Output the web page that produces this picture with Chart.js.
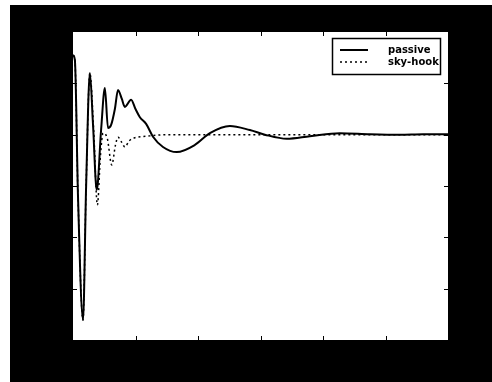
<!DOCTYPE html>
<html>
<head>
<meta charset="utf-8">
<script src="https://cdn.jsdelivr.net/npm/chart.js@4"></script>
<style>
  html, body { margin: 0; padding: 0; background: #fff; }
  #wrap { width: 492px; height: 382px; }
</style>
</head>
<body>
<div id="wrap"><canvas id="chart" width="492" height="382"></canvas></div>
<script>
// values (time on x, response on y)
const passiveX = [0, 0.03, 0.08, 0.16, 0.21, 0.27, 0.32, 0.38, 0.45, 0.51, 0.56, 0.61, 0.67, 0.72, 0.78, 0.83, 0.93, 1.0, 1.07, 1.17, 1.28, 1.44, 1.66, 1.95, 2.19, 2.51, 2.83, 3.07, 3.42, 3.79, 4.27, 4.75, 5.23, 5.6, 6.0];
const passiveY = [1.55, 1.45, -1.2, -3.61, -1.0, 1.2, 0.2, -1.08, 0.1, 0.91, 0.13, 0.19, 0.5, 0.87, 0.7, 0.54, 0.68, 0.5, 0.34, 0.21, -0.04, -0.24, -0.34, -0.2, 0.03, 0.17, 0.09, 0, -0.08, -0.03, 0.03, 0.01, 0, 0.01, 0.01];
const skyhookX = [0, 0.03, 0.08, 0.16, 0.21, 0.27, 0.33, 0.39, 0.44, 0.48, 0.55, 0.62, 0.68, 0.72, 0.78, 0.83, 0.9, 0.99, 1.18, 1.5, 2.0, 3.0, 4.0, 5.0, 6.0];
const skyhookY = [1.55, 1.45, -1.2, -3.61, -1.0, 1.2, 0.1, -1.37, -0.4, 0.03, -0.08, -0.59, -0.2, -0.05, -0.15, -0.24, -0.12, -0.06, -0.03, 0, 0, 0, 0, 0, 0];
const xTicks = [0, 1, 2, 3, 4, 5, 6];
const yTicks = [-4, -3, -2, -1, 0, 1, 2];
const labels = ['passive', 'sky-hook'];

const pts = (xs, ys) => xs.map((x, i) => ({ x: x, y: ys[i] }));

const frame = {
  id: 'frame',
  beforeDraw(chart) {
    const { ctx, chartArea: a } = chart;
    ctx.save();
    ctx.fillStyle = '#fff';
    ctx.fillRect(0, 0, chart.width, chart.height);
    ctx.fillStyle = '#000';
    ctx.fillRect(10, 5, chart.width - 10, chart.height - 5);
    ctx.fillStyle = '#fff';
    ctx.fillRect(a.left, a.top, a.right - a.left, a.bottom - a.top);
    ctx.restore();
  },
  afterDraw(chart) {
    const { ctx, chartArea: a, scales } = chart;
    ctx.save();
    // inward tick marks
    ctx.strokeStyle = '#000';
    ctx.lineWidth = 1;
    ctx.beginPath();
    xTicks.slice(1, -1).forEach(v => {
      const px = Math.round(scales.x.getPixelForValue(v)) + 0.5;
      ctx.moveTo(px, a.bottom); ctx.lineTo(px, a.bottom - 4);
      ctx.moveTo(px, a.top); ctx.lineTo(px, a.top + 4);
    });
    yTicks.slice(1, -1).forEach(v => {
      const py = Math.round(scales.y.getPixelForValue(v)) + 0.5;
      ctx.moveTo(a.left, py); ctx.lineTo(a.left + 4, py);
      ctx.moveTo(a.right, py); ctx.lineTo(a.right - 4, py);
    });
    ctx.stroke();

    // legend box, top right
    const bx = 332, by = 38, bw = 108, bh = 36;
    ctx.fillStyle = '#fff';
    ctx.fillRect(bx, by, bw, bh);
    ctx.lineWidth = 1.5;
    ctx.strokeRect(bx + 0.5, by + 0.5, bw, bh);
    chart.data.datasets.forEach((ds, i) => {
      const y = by + 12 + i * 12;
      ctx.beginPath();
      ctx.strokeStyle = ds.borderColor;
      ctx.lineWidth = ds.borderWidth;
      ctx.setLineDash(ds.borderDash || []);
      ctx.moveTo(bx + 8, y);
      ctx.lineTo(bx + 36, y);
      ctx.stroke();
      ctx.setLineDash([]);
      ctx.fillStyle = '#000';
      ctx.font = 'bold 10px "DejaVu Sans", sans-serif';
      ctx.textBaseline = 'middle';
      ctx.fillText(ds.label, bx + 56, y);
    });
    ctx.restore();
  }
};

new Chart(document.getElementById('chart'), {
  type: 'line',
  data: {
    datasets: [
      {
        label: labels[0],
        data: pts(passiveX, passiveY),
        borderColor: '#000',
        borderWidth: 2,
        pointRadius: 0,
        cubicInterpolationMode: 'monotone',
        fill: false
      },
      {
        label: labels[1],
        data: pts(skyhookX, skyhookY),
        borderColor: '#000',
        borderWidth: 1.5,
        borderDash: [2, 3],
        pointRadius: 0,
        cubicInterpolationMode: 'monotone',
        fill: false
      }
    ]
  },
  options: {
    responsive: false,
    animation: false,
    layout: { padding: { left: 73, top: 32, right: 44, bottom: 42 } },
    plugins: { legend: { display: false }, tooltip: { enabled: false } },
    scales: {
      x: { type: 'linear', min: 0, max: 6, display: false },
      y: { type: 'linear', min: -4, max: 2, display: false }
    }
  },
  plugins: [frame]
});
</script>
</body>
</html>
